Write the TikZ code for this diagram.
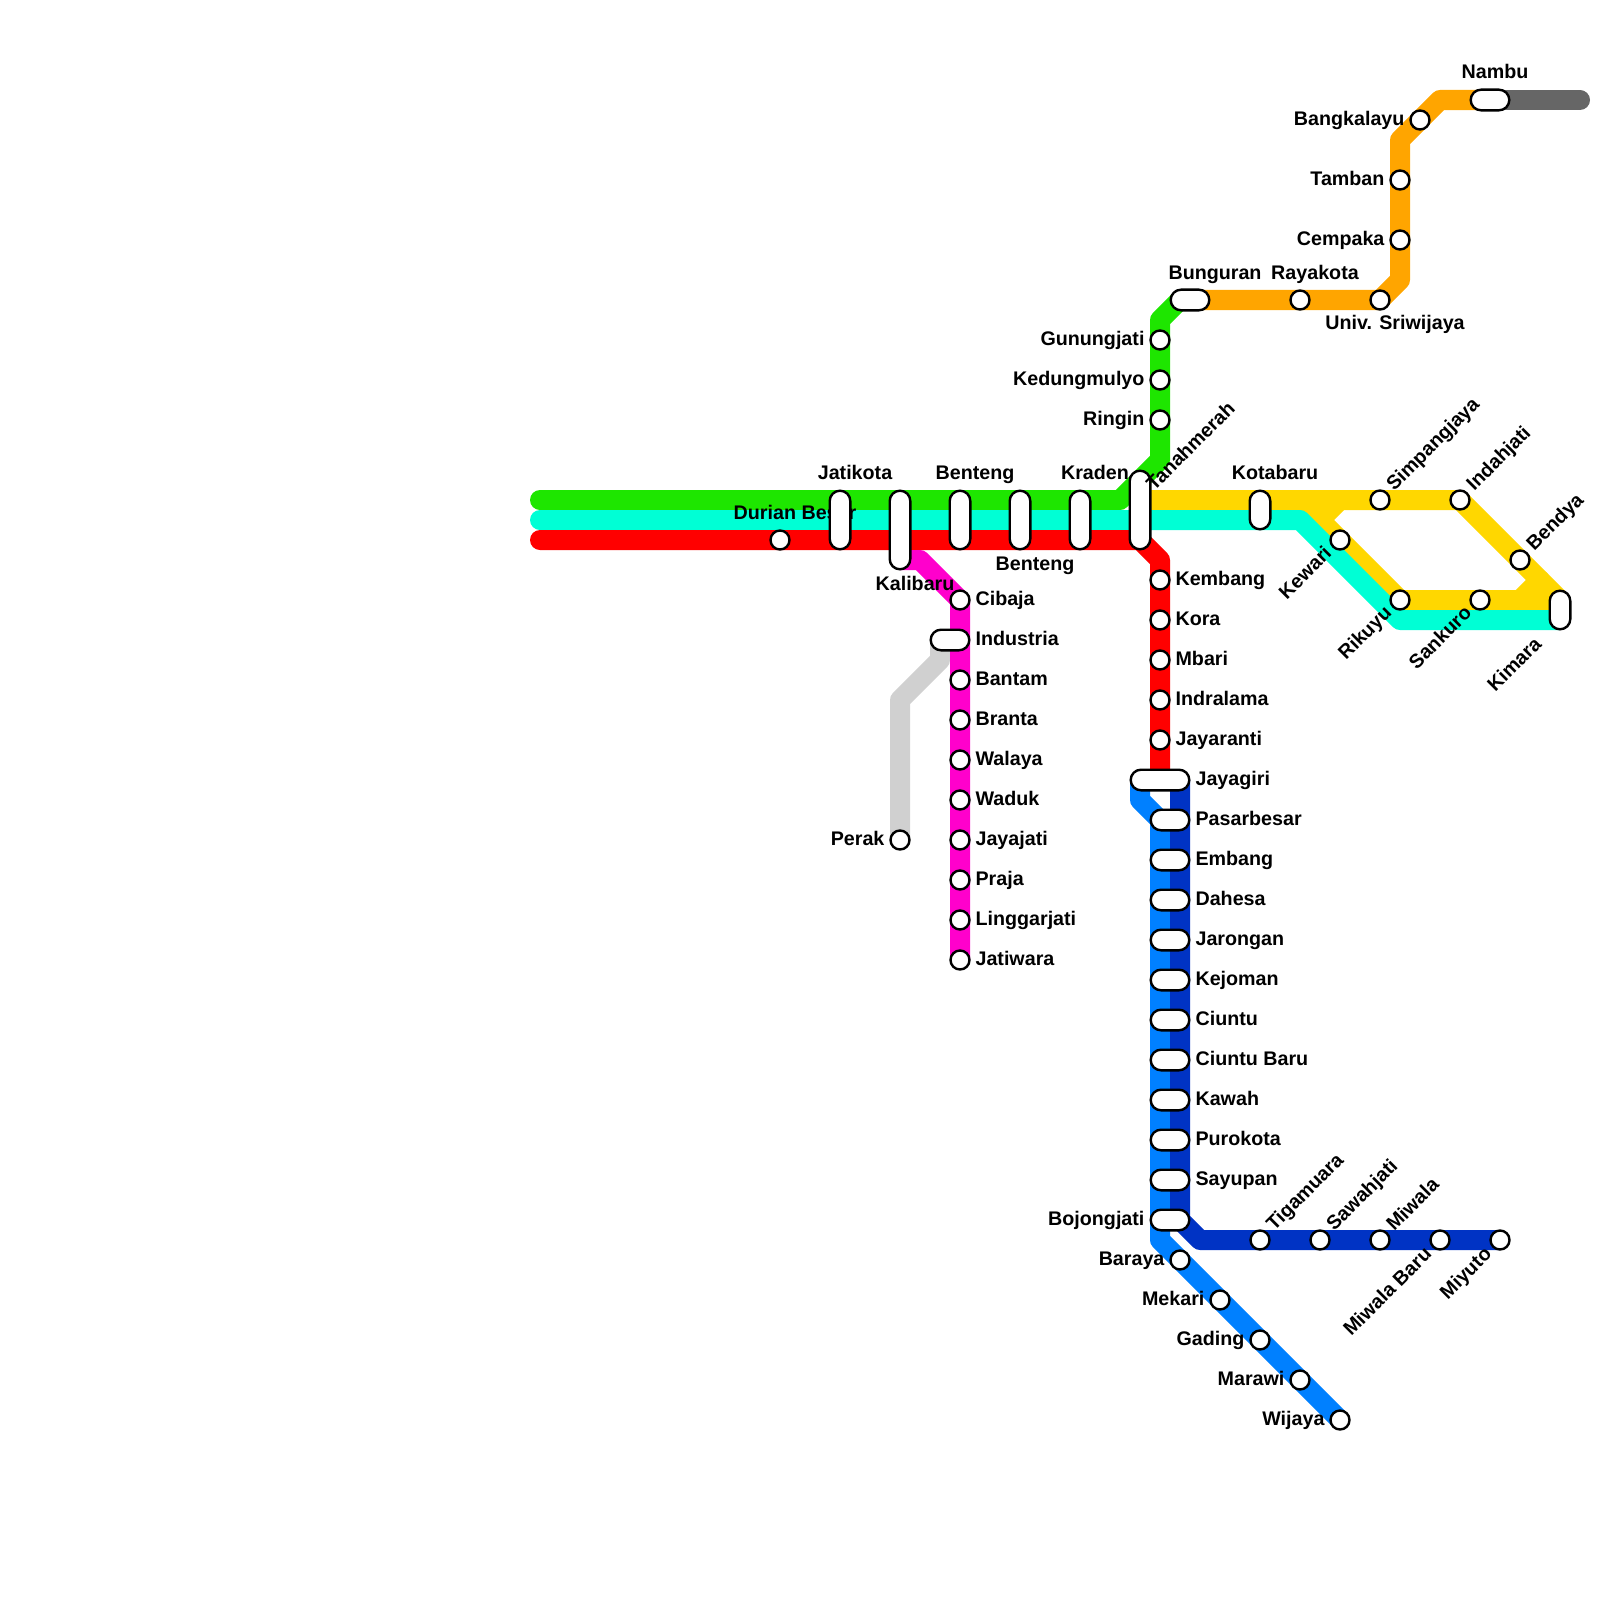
\documentclass[tikz,border=0pt]{standalone}
\usepackage{fontspec}
\setmainfont{Liberation Sans}
\usetikzlibrary{positioning, backgrounds, shapes.misc}
\definecolor{mygreen}{HTML}{1EE600}
\definecolor{mycyan}{HTML}{00FFD5}
\definecolor{myred}{HTML}{FF0000}
\definecolor{mymagenta}{HTML}{FF00CC}
\definecolor{mysilver}{HTML}{D0D0D0}
\definecolor{myyellow}{HTML}{FFD700}
\definecolor{myorange}{HTML}{FFA500}
\definecolor{mydarkgray}{HTML}{666666}
\definecolor{myblue}{HTML}{0080FF}
\definecolor{mynavy}{HTML}{0033C4}
\tikzset{
	metroline/.style={line width=0.25cm, line join=round, line cap=round}
}
\tikzset{
	stop/.style={circle, draw=black, fill=white, line width=0.03cm, minimum size=0.2375cm, inner sep=0pt}
}
\tikzset{
	pill/.style={rounded rectangle, draw=black, fill=white, line width=0.03cm, minimum height=0.2575cm, minimum width=#1, inner sep=0pt}
}
\tikzset{
	stname/.style={font=\fontsize{7}{8}\selectfont\bfseries, inner sep=0pt}
}
\begin{document}
\begin{tikzpicture}[x=0.0125cm, y=-0.0125cm]

			\useasboundingbox (0,0) rectangle (1600,1600);

			\begin{scope}
				% names to the right of the stops
				\node[stname, anchor=base west] (lCibaja) at (975,605) {Cibaja};
				\node[stname, anchor=base west] (lIndustria) at (975,645) {Industria};
				\node[stname, anchor=base west] (lBantam) at (975,685) {Bantam};
				\node[stname, anchor=base west] (lBranta) at (975,725) {Branta};
				\node[stname, anchor=base west] (lWalaya) at (975,765) {Walaya};
				\node[stname, anchor=base west] (lWaduk) at (975,805) {Waduk};
				\node[stname, anchor=base west] (lJayajati) at (975,845) {Jayajati};
				\node[stname, anchor=base west] (lPraja) at (975,885) {Praja};
				\node[stname, anchor=base west] (lLinggarjati) at (975,925) {Linggarjati};
				\node[stname, anchor=base west] (lJatiwara) at (975,965) {Jatiwara};

				\node[stname, anchor=base west] (lKembang) at (1175,585) {Kembang};
				\node[stname, anchor=base west] (lKora) at (1175,625) {Kora};
				\node[stname, anchor=base west] (lMbari) at (1175,665) {Mbari};
				\node[stname, anchor=base west] (lIndralama) at (1175,705) {Indralama};
				\node[stname, anchor=base west] (lJayaranti) at (1175,745) {Jayaranti};

				\node[stname, anchor=base west] (lJayagiri) at (1195,785) {Jayagiri};
				\node[stname, anchor=base west] (lPasarbesar) at (1195,825) {Pasarbesar};
				\node[stname, anchor=base west] (lEmbang) at (1195,865) {Embang};
				\node[stname, anchor=base west] (lDahesa) at (1195,905) {Dahesa};
				\node[stname, anchor=base west] (lJarongan) at (1195,945) {Jarongan};
				\node[stname, anchor=base west] (lKejoman) at (1195,985) {Kejoman};
				\node[stname, anchor=base west] (lCiuntu) at (1195,1025) {Ciuntu};
				\node[stname, anchor=base west] (lCiuntuBaru) at (1195,1065) {Ciuntu Baru};
				\node[stname, anchor=base west] (lKawah) at (1195,1105) {Kawah};
				\node[stname, anchor=base west] (lPurokota) at (1195,1145) {Purokota};
				\node[stname, anchor=base west] (lSayupan) at (1195,1185) {Sayupan};

				% names to the left
				\node[stname, anchor=base east] (lPerak) at (885,845) {Perak};
				\node[stname, anchor=base east] (lGunungjati) at (1145,345) {Gunungjati};
				\node[stname, anchor=base east] (lKedungmulyo) at (1145,385) {Kedungmulyo};
				\node[stname, anchor=base east] (lRingin) at (1145,425) {Ringin};
				\node[stname, anchor=base east] (lBangkalayu) at (1405,125) {Bangkalayu};
				\node[stname, anchor=base east] (lTamban) at (1385,185) {Tamban};
				\node[stname, anchor=base east] (lCempaka) at (1385,245) {Cempaka};
				\node[stname, anchor=base east] (lBojongjati) at (1145,1225) {Bojongjati};
				\node[stname, anchor=base east] (lBaraya) at (1165,1265) {Baraya};
				\node[stname, anchor=base east] (lMekari) at (1205,1305) {Mekari};
				\node[stname, anchor=base east] (lGading) at (1245,1345) {Gading};
				\node[stname, anchor=base east] (lMarawi) at (1285,1385) {Marawi};
				\node[stname, anchor=base east] (lWijaya) at (1325,1425) {Wijaya};

				% names above and below
				\node[stname, anchor=base] (lDurian) at (795,519) {Durian Besar};
				\node[stname, anchor=base] (lJatikota) at (855,479) {Jatikota};
				\node[stname, anchor=base] (lBenteng) at (975,479) {Benteng};
				\node[stname, anchor=base] (lKraden) at (1095,479) {Kraden};
				\node[stname, anchor=base] (lKotabaru) at (1275,479) {Kotabaru};
				\node[stname, anchor=base] (lBunguran) at (1215,279) {Bunguran};
				\node[stname, anchor=base] (lRayakota) at (1315,279) {Rayakota};
				\node[stname, anchor=base] (lNambu) at (1495,79) {Nambu};
				\node[stname, anchor=base] (lBentengB) at (1035,570) {Benteng};
				\node[stname, anchor=base] (lKalibaru) at (915,590) {Kalibaru};
				\node[stname, anchor=base] (lUniv) at (1395,329) {Univ. Sriwijaya};

				% slanted names
				\node[stname, anchor=base west, rotate=45] (lSimpangjaya) at (1394,492) {Simpangjaya};
				\node[stname, anchor=base west, rotate=45] (lIndahjati) at (1474,492) {Indahjati};
				\node[stname, anchor=base west, rotate=45] (lBendya) at (1534,552) {Bendya};
				\node[stname, anchor=base west, rotate=45] (lTigamuara) at (1274,1232) {Tigamuara};
				\node[stname, anchor=base west, rotate=45] (lSawahjati) at (1334,1232) {Sawahjati};
				\node[stname, anchor=base west, rotate=45] (lMiwala) at (1394,1232) {Miwala};
				\node[stname, anchor=base east, rotate=45] (lKewari) at (1333,554) {Kewari};
				\node[stname, anchor=base east, rotate=45] (lRikuyu) at (1393,614) {Rikuyu};
				\node[stname, anchor=base east, rotate=45] (lSankuro) at (1473,614) {Sankuro};
				\node[stname, anchor=base east, rotate=45] (lKimara) at (1543,645) {Kimara};
				\node[stname, anchor=base east, rotate=45] (lMiwalaBaru) at (1433,1255) {Miwala Baru};
				\node[stname, anchor=base east, rotate=45] (lMiyuto) at (1493,1255) {Miyuto};
			\end{scope}

			\begin{scope}
				\node[stop] (durian) at (780,540) {};
				\node[pill=0.7325cm, rotate=90] (jatikota) at (840,520) {};
				\node[pill=0.9825cm, rotate=90] (kalibaru) at (900,530) {};
				\node[pill=0.7325cm, rotate=90] (benteng) at (960,520) {};
				\node[pill=0.7325cm, rotate=90] (bentengB) at (1020,520) {};
				\node[pill=0.7325cm, rotate=90] (kraden) at (1080,520) {};
				\node[pill=0.9825cm, rotate=90] (tanahmerah) at (1140,510) {};
				\node[pill=0.4825cm, rotate=90] (kotabaru) at (1260,510) {};
				\node[pill=0.4825cm, rotate=90] (kimara) at (1560,610) {};

				\node[stop] (simpangjaya) at (1380,500) {};
				\node[stop] (indahjati) at (1460,500) {};
				\node[stop] (bendya) at (1520,560) {};
				\node[stop] (kewari) at (1340,540) {};
				\node[stop] (rikuyu) at (1400,600) {};
				\node[stop] (sankuro) at (1480,600) {};

				\node[stop] (gunungjati) at (1160,340) {};
				\node[stop] (kedungmulyo) at (1160,380) {};
				\node[stop] (ringin) at (1160,420) {};
				\node[pill=0.4825cm] (bunguran) at (1190,300) {};
				\node[stop] (rayakota) at (1300,300) {};
				\node[stop] (univ) at (1380,300) {};
				\node[stop] (cempaka) at (1400,240) {};
				\node[stop] (tamban) at (1400,180) {};
				\node[stop] (bangkalayu) at (1420,120) {};
				\node[pill=0.4825cm] (nambu) at (1490,100) {};

				\node[stop] (cibaja) at (960,600) {};
				\node[pill=0.4825cm] (industria) at (950,640) {};
				\node[stop] (bantam) at (960,680) {};
				\node[stop] (branta) at (960,720) {};
				\node[stop] (walaya) at (960,760) {};
				\node[stop] (waduk) at (960,800) {};
				\node[stop] (jayajati) at (960,840) {};
				\node[stop] (praja) at (960,880) {};
				\node[stop] (linggarjati) at (960,920) {};
				\node[stop] (jatiwara) at (960,960) {};
				\node[stop] (perak) at (900,840) {};

				\node[stop] (kembang) at (1160,580) {};
				\node[stop] (kora) at (1160,620) {};
				\node[stop] (mbari) at (1160,660) {};
				\node[stop] (indralama) at (1160,700) {};
				\node[stop] (jayaranti) at (1160,740) {};

				\node[pill=0.7325cm] (jayagiri) at (1160,780) {};
				\node[pill=0.4825cm] (pasarbesar) at (1170,820) {};
				\node[pill=0.4825cm] (embang) at (1170,860) {};
				\node[pill=0.4825cm] (dahesa) at (1170,900) {};
				\node[pill=0.4825cm] (jarongan) at (1170,940) {};
				\node[pill=0.4825cm] (kejoman) at (1170,980) {};
				\node[pill=0.4825cm] (ciuntu) at (1170,1020) {};
				\node[pill=0.4825cm] (ciuntubaru) at (1170,1060) {};
				\node[pill=0.4825cm] (kawah) at (1170,1100) {};
				\node[pill=0.4825cm] (purokota) at (1170,1140) {};
				\node[pill=0.4825cm] (sayupan) at (1170,1180) {};
				\node[pill=0.4825cm] (bojongjati) at (1170,1220) {};

				\node[stop] (baraya) at (1180,1260) {};
				\node[stop] (mekari) at (1220,1300) {};
				\node[stop] (gading) at (1260,1340) {};
				\node[stop] (marawi) at (1300,1380) {};
				\node[stop] (wijaya) at (1340,1420) {};

				\node[stop] (tigamuara) at (1260,1240) {};
				\node[stop] (sawahjati) at (1320,1240) {};
				\node[stop] (miwala) at (1380,1240) {};
				\node[stop] (miwalabaru) at (1440,1240) {};
				\node[stop] (miyuto) at (1500,1240) {};
			\end{scope}

			\node[stname, anchor=base west, rotate=45] (lTanahmerah) at (1154,492) {Tanahmerah};

			\coordinate (gW) at (540,500);
			\coordinate (gA) at (1120,500);
			\coordinate (gB) at (1160,460);
			\coordinate (gC) at (1160,320);
			\coordinate (gD) at (1180,300);
			\coordinate (cW) at (540,520);
			\coordinate (cA) at (1300,520);
			\coordinate (cB) at (1400,620);
			\coordinate (cC) at (1560,620);
			\coordinate (rW) at (540,540);
			\coordinate (rA) at (1140,540);
			\coordinate (rB) at (1160,560);
			\coordinate (yA) at (1140,500);
			\coordinate (yB) at (1560,600);
			\coordinate (yC) at (1300,500);
			\coordinate (yG) at (1320,520);
			\coordinate (yD) at (1340,500);
			\coordinate (yE) at (1520,600);
			\coordinate (yF) at (1540,580);
			\coordinate (oA) at (1400,280);
			\coordinate (oB) at (1400,140);
			\coordinate (oC) at (1440,100);
			\coordinate (oD) at (1480,100);
			\coordinate (kA) at (1500,100);
			\coordinate (kB) at (1580,100);
			\coordinate (mA) at (900,560);
			\coordinate (mB) at (920,560);
			\coordinate (sA) at (940,640);
			\coordinate (sB) at (940,660);
			\coordinate (sC) at (900,700);
			\coordinate (bA) at (1140,780);
			\coordinate (bB) at (1140,800);
			\coordinate (bC) at (1160,820);
			\coordinate (bD) at (1160,1240);
			\coordinate (nA) at (1180,780);
			\coordinate (nB) at (1180,1220);
			\coordinate (nC) at (1200,1240);

			\begin{scope}[on background layer]
				\draw[metroline, myyellow] (yA) -- (indahjati.center) -- (yB) -- (rikuyu.center) -- (yC);
				\draw[metroline, myyellow] (yG) -- (yD);
				\draw[metroline, myyellow] (yE) -- (yF);
				\draw[metroline, mygreen] (gW) -- (gA) -- (gB) -- (gC) -- (gD);
				\draw[metroline, mycyan] (cW) -- (cA) -- (cB) -- (cC);
				\draw[metroline, myred] (rW) -- (rA) -- (rB) -- (jayagiri.center);
				\draw[metroline, myorange] (gD) -- (univ.center) -- (oA) -- (oB) -- (oC) -- (oD);
				\draw[metroline, mydarkgray] (kA) -- (kB);
				\draw[metroline, mysilver] (sA) -- (sB) -- (sC) -- (perak.center);
				\draw[metroline, mymagenta] (mA) -- (mB) -- (cibaja.center) -- (jatiwara.center);
				\draw[metroline, myblue] (bA) -- (bB) -- (bC) -- (bD) -- (wijaya.center);
				\draw[metroline, mynavy] (nA) -- (nB) -- (nC) -- (miyuto.center);
			\end{scope}

		\end{tikzpicture}
\end{document}
